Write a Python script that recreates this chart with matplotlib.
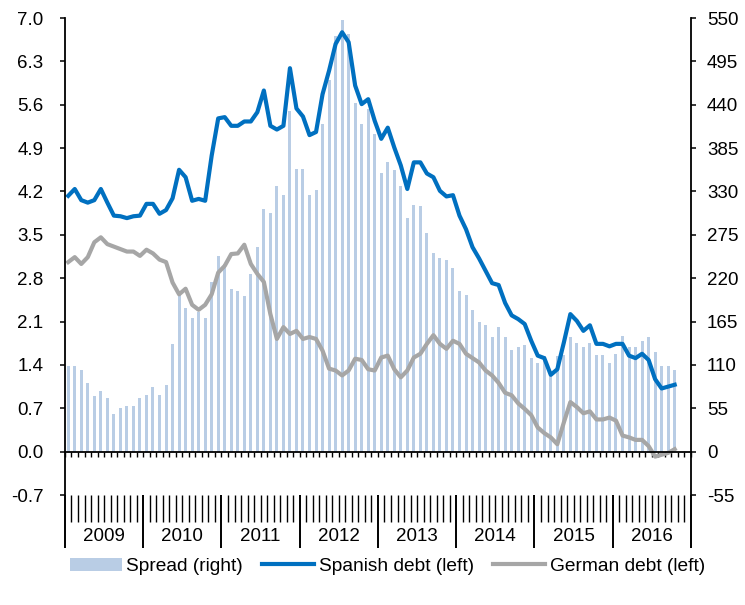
import numpy as np
import matplotlib
matplotlib.use("Agg")
import matplotlib.pyplot as plt
from matplotlib.transforms import blended_transform_factory

plt.rcParams['font.family'] = ['Liberation Sans', 'DejaVu Sans']

# monthly series, Jan 2009 - Oct 2016
years = ['2009', '2010', '2011', '2012', '2013', '2014', '2015', '2016']

spread = [109, 109, 104, 87, 70, 77, 68, 48, 55, 58, 58, 68,
          72, 82, 72, 85, 136, 200, 182, 170, 177, 169, 215, 248,
          238, 206, 204, 198, 225, 259, 308, 303, 337, 326, 432, 359,
          359, 326, 332, 415, 472, 527, 548, 530, 442, 416, 435, 403,
          354, 367, 357, 337, 296, 313, 311, 277, 252, 245, 243, 233,
          204, 199, 180, 165, 161, 145, 158, 145, 129, 133, 135, 119,
          113, 121, 101, 121, 122, 145, 138, 133, 138, 122, 122, 113,
          124, 147, 133, 133, 140, 145, 126, 109, 109, 104]

spanish = [4.13, 4.24, 4.06, 4.02, 4.06, 4.24, 4.02, 3.81, 3.80, 3.77, 3.80, 3.81,
           4.00, 4.00, 3.84, 3.90, 4.09, 4.55, 4.43, 4.05, 4.08, 4.05, 4.78, 5.38,
           5.40, 5.26, 5.26, 5.33, 5.33, 5.48, 5.83, 5.26, 5.20, 5.26, 6.19, 5.54,
           5.41, 5.11, 5.16, 5.77, 6.15, 6.58, 6.77, 6.61, 5.91, 5.61, 5.69, 5.34,
           5.05, 5.23, 4.91, 4.62, 4.24, 4.67, 4.67, 4.49, 4.43, 4.21, 4.12, 4.14,
           3.81, 3.59, 3.30, 3.12, 2.92, 2.72, 2.69, 2.40, 2.20, 2.14, 2.06, 1.79,
           1.55, 1.51, 1.24, 1.33, 1.76, 2.22, 2.11, 1.95, 2.04, 1.74, 1.74, 1.70,
           1.74, 1.74, 1.55, 1.51, 1.58, 1.48, 1.17, 1.02, 1.05, 1.08]

german = [3.06, 3.14, 3.03, 3.14, 3.38, 3.46, 3.35, 3.31, 3.27, 3.23, 3.23, 3.16,
          3.26, 3.20, 3.10, 3.06, 2.73, 2.54, 2.63, 2.37, 2.29, 2.37, 2.54, 2.89,
          3.00, 3.19, 3.20, 3.34, 3.03, 2.87, 2.74, 2.22, 1.82, 2.01, 1.90, 1.95,
          1.82, 1.85, 1.82, 1.63, 1.34, 1.31, 1.23, 1.31, 1.50, 1.48, 1.33, 1.31,
          1.52, 1.55, 1.33, 1.20, 1.31, 1.52, 1.58, 1.74, 1.88, 1.74, 1.66, 1.79,
          1.74, 1.58, 1.51, 1.44, 1.31, 1.23, 1.11, 0.95, 0.91, 0.78, 0.69, 0.59,
          0.39, 0.30, 0.23, 0.12, 0.47, 0.80, 0.72, 0.62, 0.65, 0.52, 0.52, 0.55,
          0.50, 0.26, 0.23, 0.19, 0.19, 0.09, -0.08, -0.05, -0.02, 0.04]

x = np.arange(len(spread))
n_months = 12 * len(years)
bounds = np.arange(n_months + 1) - 0.5
year_bounds = bounds[::12]

fig = plt.figure(figsize=(7.45, 6.05), dpi=100)
ax = fig.add_axes([0.0872, 0.1818, 0.8403, 0.7884])
ax2 = ax.twinx()

# spread bars on the right scale, drawn behind the yield lines
bars = ax2.bar(x, spread, width=0.46, color='#B9CDE5', label='Spread (right)')
ax.set_zorder(ax2.get_zorder() + 1)
ax.patch.set_visible(False)

l1, = ax.plot(x, spanish, color='#0070C0', lw=3.0, label='Spanish debt (left)')
l2, = ax.plot(x, german, color='#A6A6A6', lw=3.0, label='German debt (left)')

ax.set_xlim(-0.5, n_months - 0.5)
ax.set_ylim(-0.7, 7.0)
ax2.set_ylim(-55, 550)

lticks = np.arange(-0.7, 7.01, 0.7)
ax.set_yticks(lticks)
ax.set_yticklabels([f'{v:.1f}' for v in lticks])
rticks = np.arange(-55, 551, 55)
ax2.set_yticks(rticks)
ax2.set_yticklabels([str(v) for v in rticks])

for a in (ax, ax2):
    a.spines['top'].set_visible(False)
ax.spines['right'].set_visible(False)
ax2.spines['left'].set_visible(False)
ax2.spines['bottom'].set_visible(False)
ax.spines['left'].set_linewidth(1.3)
ax2.spines['right'].set_linewidth(1.3)

# zero line with small month ticks
ax.spines['bottom'].set_position(('data', 0))
ax.spines['bottom'].set_linewidth(1.3)
ax.set_xticks(bounds)
ax.set_xticklabels([])
ax.tick_params(axis='x', length=3.6, width=1.0, direction='out')

ax.tick_params(axis='y', length=3.6, width=1.1, pad=12, labelsize=13.5)
ax2.tick_params(axis='y', length=3.6, width=1.1, pad=8, labelsize=13.5)

# month / year category ticks below the plot
sec = ax.secondary_xaxis('bottom')
sec.spines['bottom'].set_visible(False)
sec.set_xticks(year_bounds)
sec.set_xticks(bounds, minor=True)
sec.set_xticklabels([])
sec.tick_params(axis='x', which='major', length=38, width=1.4, direction='out')
sec.tick_params(axis='x', which='minor', length=19.4, width=1.0, direction='out')

trans = blended_transform_factory(ax.transData, ax.transAxes)
for k, yr in enumerate(years):
    ax.text(12 * k + 5.5, -0.088, yr, transform=trans, ha='center', va='center',
            fontsize=13.5)

fig.legend([bars, l1, l2], [bars.get_label(), l1.get_label(), l2.get_label()],
           loc='center', bbox_to_anchor=(0.52, 0.064), ncol=3, frameon=False,
           handlelength=2.7, handleheight=0.65, handletextpad=0.25, columnspacing=1.0,
           fontsize=13.8)

fig.savefig('out.png', dpi=100)
